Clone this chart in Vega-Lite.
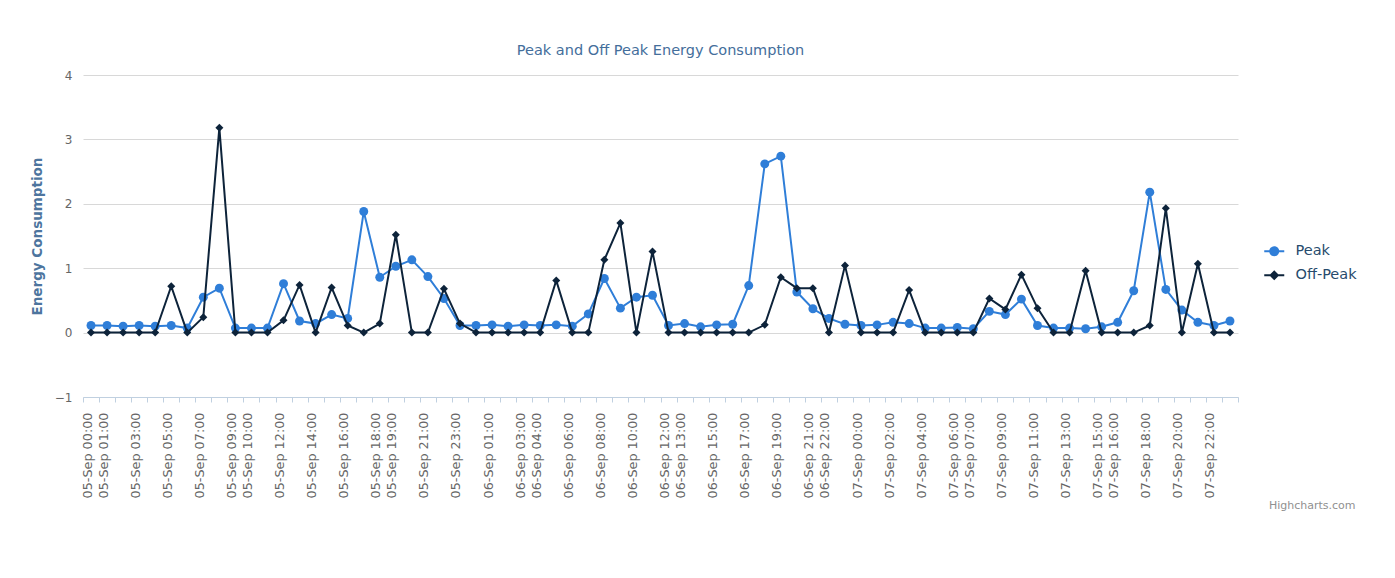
{
  "$schema": "https://vega.github.io/schema/vega-lite/v6.json",
  "autosize": {"type": "none"},
  "padding": {"left": 83, "top": 75, "right": 157, "bottom": 181},
  "width": 1155,
  "height": 322,
  "background": "white",
  "title": {
    "text": "Peak and Off Peak Energy Consumption",
    "font": "DejaVu Sans",
    "fontSize": 14.5,
    "fontWeight": "normal",
    "color": "#446e9b",
    "anchor": "middle",
    "offset": 11
  },
  "config": {
    "view": {"stroke": null},
    "axis": {"labelFont": "DejaVu Sans", "titleFont": "DejaVu Sans"}
  },
  "data": {
    "values": [
      {"t": "05-Sep 00:00", "Peak": 0.11, "Off-Peak": 0},
      {"t": "05-Sep 01:00", "Peak": 0.11, "Off-Peak": 0},
      {"t": "05-Sep 02:00", "Peak": 0.10, "Off-Peak": 0},
      {"t": "05-Sep 03:00", "Peak": 0.11, "Off-Peak": 0},
      {"t": "05-Sep 04:00", "Peak": 0.10, "Off-Peak": 0},
      {"t": "05-Sep 05:00", "Peak": 0.11, "Off-Peak": 0.72},
      {"t": "05-Sep 06:00", "Peak": 0.07, "Off-Peak": 0},
      {"t": "05-Sep 07:00", "Peak": 0.55, "Off-Peak": 0.24},
      {"t": "05-Sep 08:00", "Peak": 0.69, "Off-Peak": 3.18},
      {"t": "05-Sep 09:00", "Peak": 0.07, "Off-Peak": 0},
      {"t": "05-Sep 10:00", "Peak": 0.07, "Off-Peak": 0},
      {"t": "05-Sep 11:00", "Peak": 0.07, "Off-Peak": 0},
      {"t": "05-Sep 12:00", "Peak": 0.76, "Off-Peak": 0.19},
      {"t": "05-Sep 13:00", "Peak": 0.18, "Off-Peak": 0.74},
      {"t": "05-Sep 14:00", "Peak": 0.14, "Off-Peak": 0},
      {"t": "05-Sep 15:00", "Peak": 0.28, "Off-Peak": 0.70},
      {"t": "05-Sep 16:00", "Peak": 0.22, "Off-Peak": 0.11},
      {"t": "05-Sep 17:00", "Peak": 1.88, "Off-Peak": 0},
      {"t": "05-Sep 18:00", "Peak": 0.86, "Off-Peak": 0.14},
      {"t": "05-Sep 19:00", "Peak": 1.03, "Off-Peak": 1.52},
      {"t": "05-Sep 20:00", "Peak": 1.13, "Off-Peak": 0},
      {"t": "05-Sep 21:00", "Peak": 0.87, "Off-Peak": 0},
      {"t": "05-Sep 22:00", "Peak": 0.53, "Off-Peak": 0.68},
      {"t": "05-Sep 23:00", "Peak": 0.11, "Off-Peak": 0.14},
      {"t": "06-Sep 00:00", "Peak": 0.11, "Off-Peak": 0},
      {"t": "06-Sep 01:00", "Peak": 0.12, "Off-Peak": 0},
      {"t": "06-Sep 02:00", "Peak": 0.10, "Off-Peak": 0},
      {"t": "06-Sep 03:00", "Peak": 0.12, "Off-Peak": 0},
      {"t": "06-Sep 04:00", "Peak": 0.11, "Off-Peak": 0},
      {"t": "06-Sep 05:00", "Peak": 0.12, "Off-Peak": 0.81},
      {"t": "06-Sep 06:00", "Peak": 0.10, "Off-Peak": 0},
      {"t": "06-Sep 07:00", "Peak": 0.29, "Off-Peak": 0},
      {"t": "06-Sep 08:00", "Peak": 0.84, "Off-Peak": 1.13},
      {"t": "06-Sep 09:00", "Peak": 0.38, "Off-Peak": 1.70},
      {"t": "06-Sep 10:00", "Peak": 0.55, "Off-Peak": 0},
      {"t": "06-Sep 11:00", "Peak": 0.58, "Off-Peak": 1.26},
      {"t": "06-Sep 12:00", "Peak": 0.11, "Off-Peak": 0},
      {"t": "06-Sep 13:00", "Peak": 0.14, "Off-Peak": 0},
      {"t": "06-Sep 14:00", "Peak": 0.09, "Off-Peak": 0},
      {"t": "06-Sep 15:00", "Peak": 0.12, "Off-Peak": 0},
      {"t": "06-Sep 16:00", "Peak": 0.13, "Off-Peak": 0},
      {"t": "06-Sep 17:00", "Peak": 0.73, "Off-Peak": 0},
      {"t": "06-Sep 18:00", "Peak": 2.62, "Off-Peak": 0.12},
      {"t": "06-Sep 19:00", "Peak": 2.74, "Off-Peak": 0.86},
      {"t": "06-Sep 20:00", "Peak": 0.63, "Off-Peak": 0.69},
      {"t": "06-Sep 21:00", "Peak": 0.37, "Off-Peak": 0.69},
      {"t": "06-Sep 22:00", "Peak": 0.22, "Off-Peak": 0},
      {"t": "06-Sep 23:00", "Peak": 0.13, "Off-Peak": 1.04},
      {"t": "07-Sep 00:00", "Peak": 0.11, "Off-Peak": 0},
      {"t": "07-Sep 01:00", "Peak": 0.12, "Off-Peak": 0},
      {"t": "07-Sep 02:00", "Peak": 0.16, "Off-Peak": 0},
      {"t": "07-Sep 03:00", "Peak": 0.14, "Off-Peak": 0.66},
      {"t": "07-Sep 04:00", "Peak": 0.07, "Off-Peak": 0},
      {"t": "07-Sep 05:00", "Peak": 0.07, "Off-Peak": 0},
      {"t": "07-Sep 06:00", "Peak": 0.08, "Off-Peak": 0},
      {"t": "07-Sep 07:00", "Peak": 0.06, "Off-Peak": 0},
      {"t": "07-Sep 08:00", "Peak": 0.33, "Off-Peak": 0.53},
      {"t": "07-Sep 09:00", "Peak": 0.28, "Off-Peak": 0.36},
      {"t": "07-Sep 10:00", "Peak": 0.52, "Off-Peak": 0.90},
      {"t": "07-Sep 11:00", "Peak": 0.11, "Off-Peak": 0.38},
      {"t": "07-Sep 12:00", "Peak": 0.07, "Off-Peak": 0},
      {"t": "07-Sep 13:00", "Peak": 0.07, "Off-Peak": 0},
      {"t": "07-Sep 14:00", "Peak": 0.06, "Off-Peak": 0.96},
      {"t": "07-Sep 15:00", "Peak": 0.09, "Off-Peak": 0},
      {"t": "07-Sep 16:00", "Peak": 0.16, "Off-Peak": 0},
      {"t": "07-Sep 17:00", "Peak": 0.65, "Off-Peak": 0},
      {"t": "07-Sep 18:00", "Peak": 2.18, "Off-Peak": 0.11},
      {"t": "07-Sep 19:00", "Peak": 0.67, "Off-Peak": 1.93},
      {"t": "07-Sep 20:00", "Peak": 0.35, "Off-Peak": 0},
      {"t": "07-Sep 21:00", "Peak": 0.16, "Off-Peak": 1.07},
      {"t": "07-Sep 22:00", "Peak": 0.11, "Off-Peak": 0},
      {"t": "07-Sep 23:00", "Peak": 0.18, "Off-Peak": 0}
    ]
  },
  "transform": [{"fold": ["Peak", "Off-Peak"], "as": ["series", "value"]}],
  "encoding": {
    "x": {
      "field": "t",
      "type": "ordinal",
      "sort": null,
      "scale": {"type": "band", "paddingInner": 0, "paddingOuter": 0},
      "axis": {
        "title": "Highcharts.com",
        "titleFont": "DejaVu Sans",
        "titleFontSize": 11,
        "titleFontWeight": "normal",
        "titleColor": "#909090",
        "titleAnchor": null,
        "titleAlign": "right",
        "titleBaseline": "middle",
        "titleX": 1272,
        "titleY": 108,
        "tickBand": "extent",
        "domainColor": "#C0D0E0",
        "domainWidth": 1,
        "tickColor": "#C0D0E0",
        "tickSize": 5,
        "grid": false,
        "labelAngle": 270,
        "labelAlign": "right",
        "labelBaseline": "alphabetic",
        "labelPadding": 10,
        "labelFontSize": 12.8,
        "labelColor": "#666666",
        "labelOverlap": false,
        "labelExpr": "indexof(['05-Sep 00:00','05-Sep 01:00','05-Sep 03:00','05-Sep 05:00','05-Sep 07:00','05-Sep 09:00','05-Sep 10:00','05-Sep 12:00','05-Sep 14:00','05-Sep 16:00','05-Sep 18:00','05-Sep 19:00','05-Sep 21:00','05-Sep 23:00','06-Sep 01:00','06-Sep 03:00','06-Sep 04:00','06-Sep 06:00','06-Sep 08:00','06-Sep 10:00','06-Sep 12:00','06-Sep 13:00','06-Sep 15:00','06-Sep 17:00','06-Sep 19:00','06-Sep 21:00','06-Sep 22:00','07-Sep 00:00','07-Sep 02:00','07-Sep 04:00','07-Sep 06:00','07-Sep 07:00','07-Sep 09:00','07-Sep 11:00','07-Sep 13:00','07-Sep 15:00','07-Sep 16:00','07-Sep 18:00','07-Sep 20:00','07-Sep 22:00'], datum.value) >= 0 ? datum.value : ''"
      }
    },
    "y": {
      "field": "value",
      "type": "quantitative",
      "scale": {"domain": [-1, 4], "nice": false, "zero": false},
      "axis": {
        "title": "Energy Consumption",
        "titleFontSize": 13.5,
        "titleFontWeight": "bold",
        "titleColor": "#4d759e",
        "titleAngle": 270,
        "titleAlign": "center",
        "titleBaseline": "middle",
        "titleAnchor": null,
        "titleX": -46,
        "titleY": 161,
        "values": [-1, 0, 1, 2, 3, 4],
        "domain": false,
        "ticks": false,
        "tickSize": 0,
        "labelPadding": 11,
        "labelFontSize": 12,
        "labelColor": "#666666",
        "gridColor": "#d8d8d8",
        "gridWidth": 1
      }
    }
  },
  "layer": [
    {
      "transform": [{"filter": "datum.series === 'Peak'"}],
      "mark": {"type": "line", "color": "#2f7ed8", "strokeWidth": 2}
    },
    {
      "transform": [{"filter": "datum.series === 'Peak'"}],
      "mark": {"type": "point", "shape": "circle", "filled": true, "opacity": 1, "color": "#2f7ed8", "size": 80}
    },
    {
      "transform": [{"filter": "datum.series === 'Off-Peak'"}],
      "mark": {"type": "line", "color": "#0d233a", "strokeWidth": 2}
    },
    {
      "transform": [{"filter": "datum.series === 'Off-Peak'"}],
      "mark": {"type": "point", "shape": "diamond", "filled": true, "opacity": 1, "color": "#0d233a", "size": 64}
    },
    {
      "transform": [{"filter": "false"}],
      "mark": {"type": "point", "filled": true, "opacity": 1},
      "encoding": {
        "color": {
          "field": "series",
          "type": "nominal",
          "scale": {"domain": ["Peak", "Off-Peak"], "range": ["#2f7ed8", "#0d233a"]},
          "legend": {
            "title": null,
            "orient": "none",
            "legendX": 1184,
            "legendY": 169,
            "padding": 0,
            "symbolSize": 64,
            "symbolStrokeWidth": 0,
            "symbolOpacity": 1,
            "labelOffset": 14,
            "labelFont": "DejaVu Sans",
            "labelFontSize": 14.5,
            "labelColor": "#274b6d",
            "rowPadding": 9
          }
        },
        "shape": {
          "field": "series",
          "type": "nominal",
          "scale": {
            "domain": ["Peak", "Off-Peak"],
            "range": [
              "M-2.5,-0.25H2.5V0.25H-2.5ZM-1.25,0A1.25,1.25,0,1,1,1.25,0A1.25,1.25,0,1,1,-1.25,0Z",
              "M-2.5,-0.25H2.5V0.25H-2.5ZM0,-1.25L1.25,0L0,1.25L-1.25,0Z"
            ]
          },
          "legend": {
            "title": null,
            "orient": "none",
            "legendX": 1184,
            "legendY": 169,
            "padding": 0,
            "symbolSize": 64,
            "symbolStrokeWidth": 0,
            "symbolOpacity": 1,
            "labelOffset": 14,
            "labelFont": "DejaVu Sans",
            "labelFontSize": 14.5,
            "labelColor": "#274b6d",
            "rowPadding": 9
          }
        }
      }
    }
  ]
}
